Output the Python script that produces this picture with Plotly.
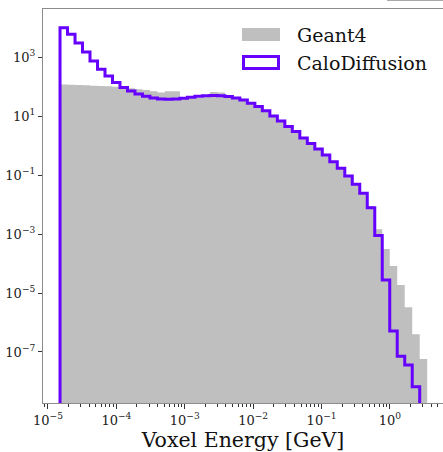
import numpy as np
import plotly.graph_objects as go

# ---- data ----
bin_lo = 1.5e-5
bin_hi = 3.5
n_bins = 49

geant4 = [117, 115, 112, 110, 107, 105, 102, 98, 93, 87,
          81, 76, 69, 63, 70, 69, 38, 40, 42, 44,
          66, 63, 44, 39, 33, 26, 20, 14, 9.5, 6.5,
          4.2, 2.8, 1.74, 1.12, 0.72, 0.46, 0.27, 0.162, 0.089, 0.047,
          0.023, 8.9e-3, 1.45e-3, 3.1e-4, 8.3e-5, 1.86e-5, 3.3e-6, 4.0e-7, 5.8e-8]

calodiff = [9.8e3, 5.9e3, 3.0e3, 1.5e3, 740, 390, 230, 138, 93, 71,
            56, 47, 41, 38, 37, 38, 40, 43, 47, 49,
            50, 49, 46, 41, 35, 27, 21, 15, 10, 6.8,
            4.4, 3.0, 1.8, 1.17, 0.76, 0.48, 0.28, 0.17, 0.093, 0.049,
            0.024, 7.8e-3, 8.9e-4, 2.75e-5, 5.1e-7, 7.2e-8, 3.6e-8, 6.6e-9, 0]

series_names = ["Geant4", "CaloDiffusion"]
y_tick_vals = [1e-7, 1e-5, 1e-3, 1e-1, 1e1, 1e3]
y_tick_text = ["10<sup>−7</sup>", "10<sup>−5</sup>", "10<sup>−3</sup>",
               "10<sup>−1</sup>", "10<sup>1</sup>", "10<sup>3</sup>"]
x_tick_vals = [1e-5, 1e-4, 1e-3, 1e-2, 1e-1, 1e0]
x_tick_text = ["10<sup>−5</sup>", "10<sup>−4</sup>", "10<sup>−3</sup>",
               "10<sup>−2</sup>", "10<sup>−1</sup>", "10<sup>0</sup>"]

# ---- styling ----
FONT = "DejaVu Serif"
GRAY = "#bfbfbf"
PURPLE = "#6600ff"
W, H = 443, 452
L, T, PW, PH = 43, 9, 400, 394
floor = 1e-14

edges = np.logspace(np.log10(bin_lo), np.log10(bin_hi), n_bins + 1)


def step(vals):
    v = np.array(vals, dtype=float)
    v[v <= 0] = floor
    xs = np.repeat(edges, 2)
    ys = np.concatenate([[floor], np.repeat(v, 2), [floor]])
    return xs, ys


gx, gy = step(geant4)
cx, cy = step(calodiff)

fig = go.Figure()
fig.add_trace(go.Scatter(x=gx, y=gy, mode="lines", fill="toself",
                         fillcolor=GRAY, line=dict(width=0, color=GRAY),
                         name=series_names[0], showlegend=False,
                         hoverinfo="skip"))
fig.add_trace(go.Scatter(x=cx, y=cy, mode="lines",
                         line=dict(width=3, color=PURPLE),
                         name=series_names[1], showlegend=False,
                         hoverinfo="skip"))


def px2x(px):
    return (px - L) / PW


def py2y(py):
    return 1 - (py - T) / PH


minor_x = [m * 10.0 ** e for e in range(-6, 1) for m in range(2, 10)]
minor_x = [v for v in minor_x if 8e-6 < v < 6.5]

fig.update_layout(
    width=W, height=H,
    margin=dict(l=L, r=W - L - PW, t=T, b=H - T - PH),
    paper_bgcolor="white", plot_bgcolor="white",
    font=dict(family=FONT, color="#222", size=13),
    xaxis=dict(type="log", range=[np.log10(bin_lo) - 0.249, 0.775],
               showline=True, linecolor="#8c8c8c", linewidth=1.2, mirror=True,
               showgrid=False, zeroline=False,
               tickmode="array", tickvals=x_tick_vals, ticktext=x_tick_text,
               ticks="outside", ticklen=5, tickwidth=1, tickcolor="#333",
               tickfont=dict(family=FONT, size=13, color="#222"),
               minor=dict(tickvals=minor_x, ticks="outside", ticklen=3,
                          tickwidth=0.8, tickcolor="#333", showgrid=False),
               title=dict(text="Voxel Energy [GeV]",
                          font=dict(family=FONT, size=20.5, color="#111"),
                          standoff=5)),
    yaxis=dict(type="log", range=[-8.73, 4.63],
               showline=True, linecolor="#8c8c8c", linewidth=1.2, mirror=False,
               showgrid=False, zeroline=False,
               tickmode="array", tickvals=y_tick_vals, ticktext=y_tick_text,
               ticks="outside", ticklen=4, tickwidth=1, tickcolor="#333",
               tickfont=dict(family=FONT, size=13, color="#222")),
)

# legend drawn manually
fig.add_shape(type="rect", xref="paper", yref="paper",
              x0=px2x(242), x1=px2x(280), y0=py2y(41), y1=py2y(28),
              fillcolor=GRAY, line=dict(width=0))
fig.add_shape(type="rect", xref="paper", yref="paper",
              x0=px2x(243.5), x1=px2x(278.5), y0=py2y(68.5), y1=py2y(56.5),
              fillcolor="rgba(0,0,0,0)", line=dict(width=3, color=PURPLE))
fig.add_annotation(text=series_names[0], xref="paper", yref="paper",
                   x=px2x(295), y=py2y(34.5), xanchor="left", yanchor="middle",
                   showarrow=False, font=dict(family=FONT, size=19, color="#111"))
fig.add_annotation(text=series_names[1], xref="paper", yref="paper",
                   x=px2x(295), y=py2y(62.5), xanchor="left", yanchor="middle",
                   showarrow=False, font=dict(family=FONT, size=19, color="#111"))

# fragment of neighbouring panel at top-right
fig.add_shape(type="line", xref="paper", yref="paper",
              x0=px2x(387), x1=px2x(445), y0=py2y(0.5), y1=py2y(0.5),
              line=dict(width=1, color="#aaaaaa"))

fig.write_html("out.html")
